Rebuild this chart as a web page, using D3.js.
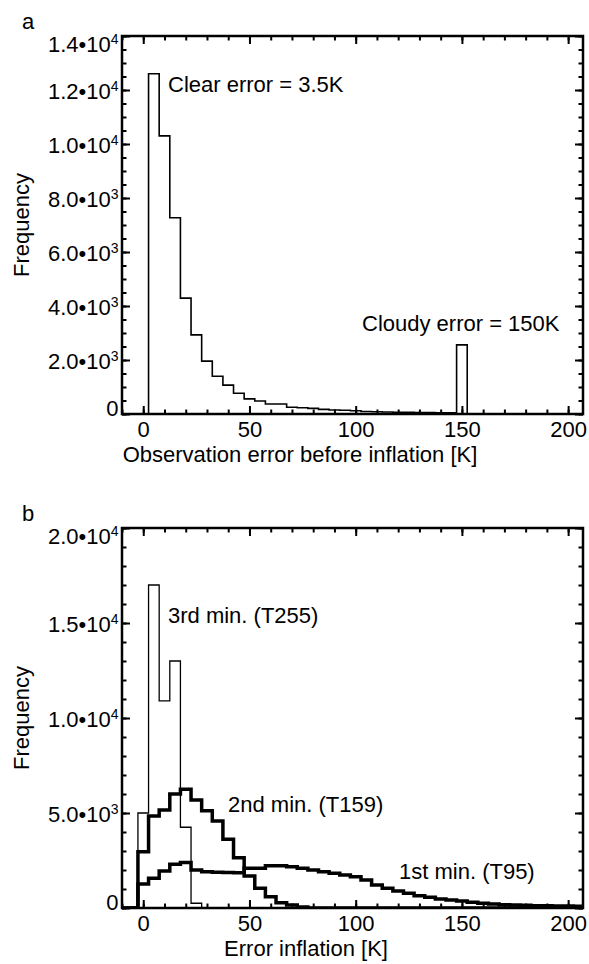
<!DOCTYPE html>
<html>
<head>
<meta charset="utf-8">
<script src="https://cdn.jsdelivr.net/npm/d3@7"></script>
<style>
body { margin: 0; background: #fff; }
svg text { font-family: "Liberation Sans", Arial, Helvetica, sans-serif; font-size: 22px; fill: #000; }
.axis path { display: none; }
.axis line { stroke: #000; stroke-width: 2; }
</style>
</head>
<body>
<svg id="chart" width="589" height="964"></svg>
<script>
// Histogram bins (centre of each 5 K bin)
var binCenters = [-10, -5, 0, 5, 10, 15, 20, 25, 30, 35, 40, 45, 50, 55, 60, 65, 70, 75, 80, 85, 90, 95,
	100, 105, 110, 115, 120, 125, 130, 135, 140, 145, 150, 155, 160, 165, 170, 175, 180, 185, 190, 195, 200, 205];

// Panel a: observation error before inflation
var obsErrorCounts = [0, 0, 0, 12600, 10300, 7270, 4290, 2930, 1960, 1400, 1070, 770, 560, 480, 370, 370, 250, 230,
	210, 170, 150, 140, 120, 95, 85, 75, 65, 60, 55, 50, 45, 40, 2560, 0, 0, 0, 0, 0, 0, 0, 0, 0, 0, 0];

// Panel b: error inflation per minimisation
var thirdMinCounts = [0, 0, 5000, 17000, 10900, 13000, 4250, 250, 0, 0, 0, 0, 0, 0, 0, 0, 0, 0, 0, 0, 0, 0,
	0, 0, 0, 0, 0, 0, 0, 0, 0, 0, 0, 0, 0, 0, 0, 0, 0, 0, 0, 0, 0, 0];
var secondMinCounts = [0, 0, 2960, 4840, 5160, 6000, 6250, 5680, 5120, 4580, 3620, 2640, 1680, 1040, 590, 280, 160, 50,
	0, 0, 0, 0, 0, 0, 0, 0, 0, 0, 0, 0, 0, 0, 0, 0, 0, 0, 0, 0, 0, 0, 0, 0, 0, 0];
var firstMinCounts = [0, 0, 1260, 1560, 1950, 2300, 2400, 2000, 1910, 1880, 1870, 1850, 2090, 2090, 2230, 2230, 2170,
	2090, 2000, 1910, 1830, 1740, 1650, 1470, 1210, 1040, 900, 770, 650, 560, 470, 420, 370, 300, 250, 210, 175, 160,
	140, 125, 115, 110, 105, 90];

// Ticks
var xTickValues = [0, 50, 100, 150, 200];
var yTicksA = [0, 2000, 4000, 6000, 8000, 10000, 12000, 14000];
var yTicksB = [0, 5000, 10000, 15000, 20000];

var svg = d3.select("#chart");
var left = 122, right = 583;
var binWidth = 5;

function sciLabel(text, v) {
	text.text(null);
	if (v == 0) {
		text.text("0");
		return;
	}
	var e = Math.floor(Math.log10(v));
	var m = (v / Math.pow(10, e)).toFixed(1);
	text.append("tspan").text(m + "\u202210");
	text.append("tspan").attr("dy", -8).attr("font-size", 14).text(e);
}

function drawPanel(cfg) {
	var g = svg.append("g");
	var x = d3.scaleLinear().domain([-10, 207]).range([left, right]);
	var y = d3.scaleLinear().domain([0, cfg.yMax]).range([cfg.bottom, cfg.top]);

	var clipId = "clip-" + cfg.name;
	g.append("clipPath").attr("id", clipId)
		.append("rect")
		.attr("x", left).attr("y", cfg.top)
		.attr("width", right - left).attr("height", cfg.bottom - cfg.top);

	// Histogram outlines
	var line = d3.line()
		.x(function(d) { return x(d.x); })
		.y(function(d) { return y(d.v); });
	cfg.series.forEach(function(s) {
		var pts = [];
		binCenters.forEach(function(c, i) {
			pts.push({ x: c - binWidth / 2, v: s.values[i] });
			pts.push({ x: c + binWidth / 2, v: s.values[i] });
		});
		g.append("path")
			.attr("clip-path", "url(#" + clipId + ")")
			.attr("d", line(pts))
			.attr("fill", "none")
			.attr("stroke", "#000")
			.attr("stroke-width", s.width)
			.attr("stroke-linejoin", "miter");
	});

	var xMinor = d3.range(-10, 207, 10);

	// Minor ticks, all four sides
	g.append("g").attr("class", "axis").attr("transform", "translate(0," + cfg.bottom + ")")
		.call(d3.axisBottom(x).tickValues(xMinor).tickSize(-4.5).tickFormat(""));
	g.append("g").attr("class", "axis").attr("transform", "translate(0," + cfg.top + ")")
		.call(d3.axisTop(x).tickValues(xMinor).tickSize(-4.5).tickFormat(""));
	g.append("g").attr("class", "axis").attr("transform", "translate(" + left + ",0)")
		.call(d3.axisLeft(y).tickValues(cfg.yMinor).tickSize(-4.5).tickFormat(""));
	g.append("g").attr("class", "axis").attr("transform", "translate(" + right + ",0)")
		.call(d3.axisRight(y).tickValues(cfg.yMinor).tickSize(-4.5).tickFormat(""));

	// Major ticks
	var xAxis = g.append("g").attr("class", "axis").attr("transform", "translate(0," + cfg.bottom + ")")
		.call(d3.axisBottom(x).tickValues(xTickValues).tickSize(-8).tickFormat(d3.format("d")));
	xAxis.selectAll("text").attr("y", 23).attr("dy", 0);
	g.append("g").attr("class", "axis").attr("transform", "translate(0," + cfg.top + ")")
		.call(d3.axisTop(x).tickValues(xTickValues).tickSize(-8).tickFormat(""));

	var yAxis = g.append("g").attr("class", "axis").attr("transform", "translate(" + left + ",0)")
		.call(d3.axisLeft(y).tickValues(cfg.yTicks).tickSize(-8));
	yAxis.selectAll("text")
		.attr("x", -3.5)
		.attr("dy", function(d) {
			if (d == 0) return 1;
			if (d == cfg.yMax) return cfg.top + 15 - y(d);
			return 8;
		})
		.each(function(d) { sciLabel(d3.select(this), d); });
	g.append("g").attr("class", "axis").attr("transform", "translate(" + right + ",0)")
		.call(d3.axisRight(y).tickValues(cfg.yTicks).tickSize(-8).tickFormat(""));

	// Box
	g.append("rect")
		.attr("x", left).attr("y", cfg.top)
		.attr("width", right - left).attr("height", cfg.bottom - cfg.top)
		.attr("fill", "none").attr("stroke", "#000").attr("stroke-width", 2.5);

	// Axis titles
	g.append("text")
		.attr("x", cfg.titleX).attr("y", cfg.bottom + 48)
		.attr("text-anchor", "middle")
		.text(cfg.xTitle);
	g.append("text")
		.attr("transform", "translate(28.5," + ((cfg.top + cfg.bottom) / 2) + ") rotate(-90)")
		.attr("text-anchor", "middle")
		.text("Frequency");
	g.append("text").attr("x", 22).attr("y", cfg.top - 7).text(cfg.name);

	cfg.notes.forEach(function(n) {
		g.append("text").attr("x", n.x).attr("y", n.y).text(n.text);
	});
}

drawPanel({
	name: "a",
	top: 36, bottom: 414,
	yMax: 14000, yTicks: yTicksA, yMinor: d3.range(0, 14001, 500),
	titleX: 300,
	xTitle: "Observation error before inflation [K]",
	series: [{ values: obsErrorCounts, width: 1.6 }],
	notes: [
		{ x: 168, y: 92, text: "Clear error = 3.5K" },
		{ x: 362, y: 331, text: "Cloudy error = 150K" }
	]
});

drawPanel({
	name: "b",
	top: 528, bottom: 908,
	yMax: 20000, yTicks: yTicksB, yMinor: d3.range(0, 20001, 1000),
	titleX: 306,
	xTitle: "Error inflation [K]",
	series: [
		{ values: thirdMinCounts, width: 1.3 },
		{ values: secondMinCounts, width: 3.5 },
		{ values: firstMinCounts, width: 3.5 }
	],
	notes: [
		{ x: 168, y: 623, text: "3rd min. (T255)" },
		{ x: 228, y: 812, text: "2nd min. (T159)" },
		{ x: 399, y: 879, text: "1st min. (T95)" }
	]
});
</script>
</body>
</html>
